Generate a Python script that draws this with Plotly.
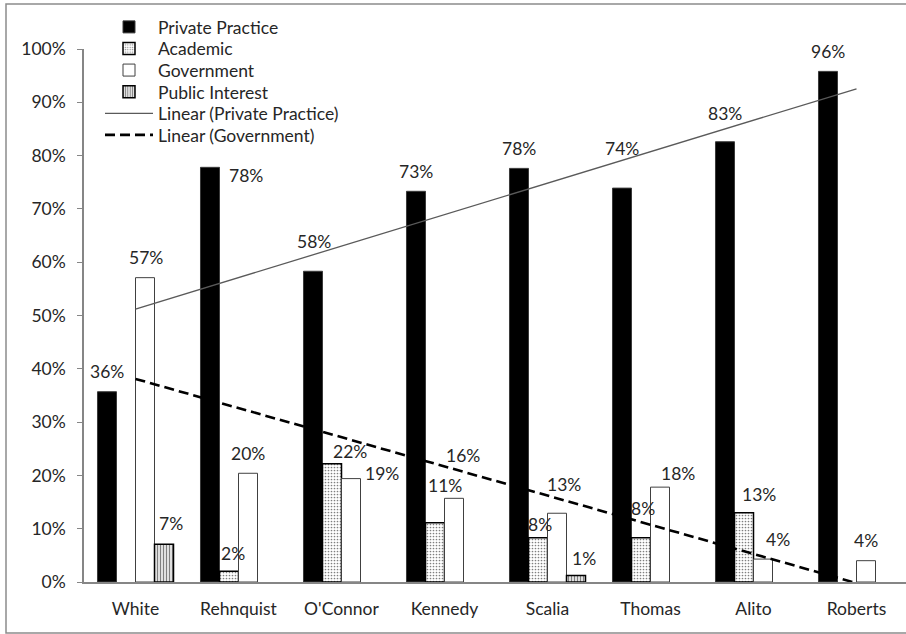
import numpy as np
import plotly.graph_objects as go

# ---------------- data ----------------
categories = ["White", "Rehnquist", "O'Connor", "Kennedy", "Scalia", "Thomas", "Alito", "Roberts"]
private_practice = [0.357, 0.778, 0.583, 0.733, 0.776, 0.739, 0.826, 0.958]
academic = [0.0, 0.020, 0.222, 0.111, 0.083, 0.083, 0.130, 0.0]
government = [0.571, 0.204, 0.194, 0.157, 0.129, 0.178, 0.043, 0.040]
public_interest = [0.071, 0.0, 0.0, 0.0, 0.012, 0.0, 0.0, 0.0]
y_ticks = [0.0, 0.1, 0.2, 0.3, 0.4, 0.5, 0.6, 0.7, 0.8, 0.9, 1.0]

# ---------------- style ----------------
FONT = "Lato"
FS = 17.5
TXT = "#262626"
AXC = "#868686"
BARGAP = 0.262
W, H = 906, 634
ML, MR, MT, MB = 84, 0, 49, 52
CAT_PX = 103.0
LEG_X_PX = 100
LEG_ROW0_PX = 27
LEG_ROW_STEP = 21.6

# label nudges in px (dx right, dy down) relative to Excel's default "outside end" spot
label_nudge = {
    "Private Practice": [(0, 0), (36, 28), (1, -10), (0, 0), (0, 0), (0, -20), (0, -8), (0, 0)],
    "Academic": [(0, 0), (4, 2), (18, 8), (10, -17), (2, 7), (2, -9), (15, 2), (0, 0)],
    "Government": [(1, 0), (0, 0), (31, 15), (9, -23), (7, -9), (18, 6), (15, 0), (0, 0)],
    "Public Interest": [(7, -1), (0, 0), (0, 0), (0, 0), (8, 3), (0, 0), (0, 0), (0, 0)],
}

series = [
    ("Private Practice", private_practice,
     dict(color="black", line=dict(color="#3a3a3a", width=1))),
    ("Academic", academic,
     dict(color="white", line=dict(color="black", width=1.5),
          pattern=dict(shape=".", fgcolor="black", bgcolor="white", size=3, solidity=0.25))),
    ("Government", government,
     dict(color="white", line=dict(color="#404040", width=1))),
    ("Public Interest", public_interest,
     dict(color="white", line=dict(color="black", width=1.5),
          pattern=dict(shape="|", fgcolor="black", bgcolor="white", size=3, solidity=0.5))),
]

pw = W - ML - MR
ph = H - MT - MB

fig = go.Figure()
legend_ids = []
for k, (name, vals, marker) in enumerate(series):
    lid = "legend" if k == 0 else f"legend{k + 1}"
    legend_ids.append(lid)
    fig.add_trace(go.Bar(
        name=name, x=categories, y=[v if v > 0 else None for v in vals],
        marker=marker, hoverinfo="skip", legend=lid,
    ))

# linear trendlines (least squares, like Excel)
xs = np.arange(1, len(categories) + 1)
for j, (name, vals, line) in enumerate([
    ("Linear (Private Practice)", private_practice, dict(color="#5a5a5a", width=1.3)),
    ("Linear (Government)", government, dict(color="black", width=2.6, dash="10px,5px")),
]):
    lid = f"legend{len(series) + j + 1}"
    legend_ids.append(lid)
    m, b = np.polyfit(xs, vals, 1)
    fig.add_trace(go.Scatter(name=name, x=categories, y=list(m * xs + b),
                             mode="lines", line=line, hoverinfo="skip", legend=lid))

# data labels
bw = (1 - BARGAP) / len(series)
annotations = []
for k, (name, vals, _) in enumerate(series):
    off = (k - (len(series) - 1) / 2) * bw
    for i, v in enumerate(vals):
        if v <= 0:
            continue
        dx, dy = label_nudge[name][i]
        annotations.append(dict(
            x=i + off, y=v, xref="x", yref="y", text=f"{round(v * 100)}%",
            showarrow=False, xanchor="center", yanchor="middle",
            xshift=dx, yshift=20 - dy,
            font=dict(family=FONT, size=FS, color=TXT),
        ))

fig.add_shape(type="rect", xref="paper", yref="paper",
              x0=(6 - ML) / pw, x1=(940 - ML) / pw,
              y0=(H - MB - 633) / ph, y1=(H - MB - 4) / ph,
              line=dict(color="#8c8c8c", width=1.5), fillcolor="rgba(0,0,0,0)")

legends = {}
for r, lid in enumerate(legend_ids):
    ypx = LEG_ROW0_PX + r * LEG_ROW_STEP
    legends[lid] = dict(x=(LEG_X_PX - ML) / pw, y=(H - MB - ypx) / ph,
                        xanchor="left", yanchor="middle",
                        bgcolor="rgba(0,0,0,0)", font=dict(family=FONT, size=17.5, color=TXT),
                        itemwidth=48, borderwidth=0)

fig.update_layout(
    width=W, height=H,
    margin=dict(l=ML, r=MR, t=MT, b=MB, pad=0, autoexpand=False),
    paper_bgcolor="white", plot_bgcolor="white",
    barmode="group", bargap=BARGAP, bargroupgap=0,
    font=dict(family=FONT, size=FS, color=TXT),
    annotations=annotations,
    showlegend=True,
    xaxis=dict(range=[-0.5, -0.5 + pw / CAT_PX], showline=True, linecolor=AXC, linewidth=1.5,
               ticks="", showgrid=False, zeroline=False,
               tickfont=dict(family=FONT, size=FS, color=TXT), ticklabelstandoff=10),
    yaxis=dict(range=[0, 1], tickvals=y_ticks, tickformat=".0%", showline=True,
               linecolor=AXC, linewidth=1.5, ticks="outside", ticklen=5, tickcolor=AXC,
               tickwidth=1, showgrid=False, zeroline=False,
               tickfont=dict(family=FONT, size=FS, color=TXT), ticklabelstandoff=8),
    **legends,
)

fig.write_html("out.html", config={"displayModeBar": False},
               post_script="document.body.style.margin='0';")
